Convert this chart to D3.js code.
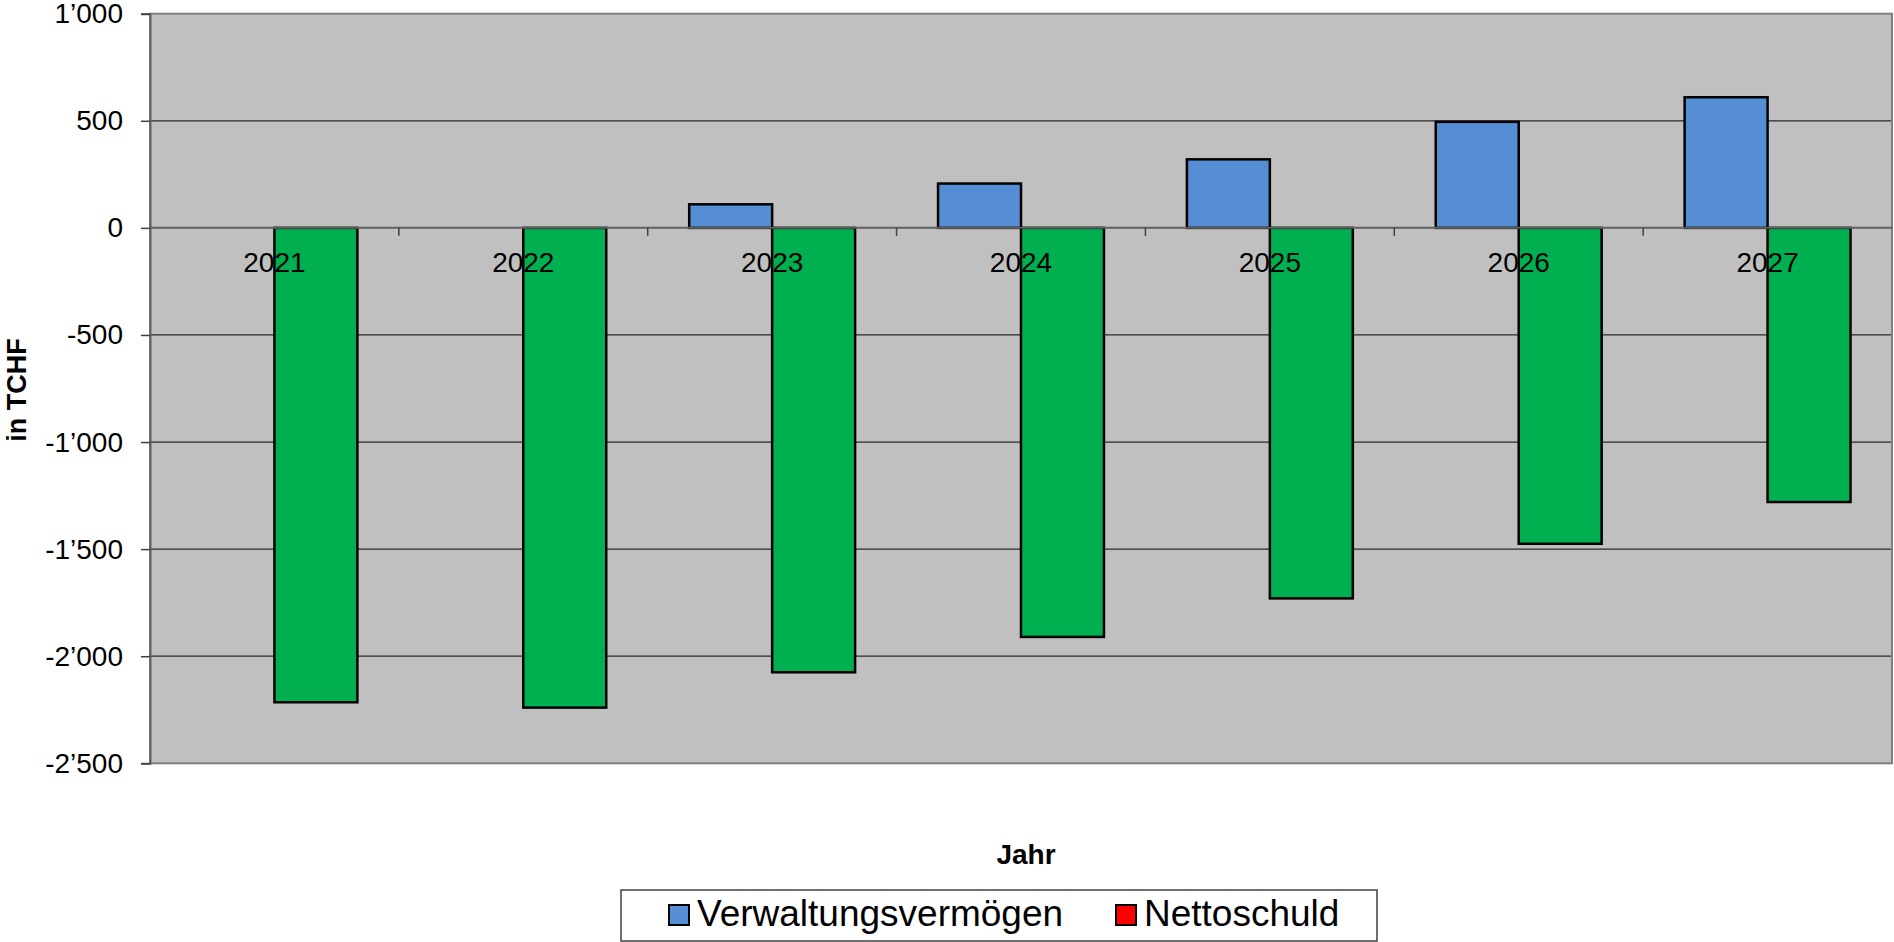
<!DOCTYPE html>
<html>
<head>
<meta charset="utf-8">
<script src="https://cdn.jsdelivr.net/npm/d3@7"></script>
<style>
  html, body { margin: 0; padding: 0; background: #ffffff; }
  svg { display: block; font-family: Arial, "Liberation Sans", sans-serif; }
</style>
</head>
<body>
<svg id="chart" width="1894" height="942"></svg>
<script>
const years = ["2021", "2022", "2023", "2024", "2025", "2026", "2027"];
const verwaltungsvermoegen = [0, 0, 110, 207, 320, 495, 610];
const nettoschuld = [-2215, -2240, -2075, -1910, -1730, -1475, -1280];
const yTicks = [1000, 500, 0, -500, -1000, -1500, -2000, -2500];
const seriesNames = ["Verwaltungsvermögen", "Nettoschuld"];
const barColors = ["#558ED5", "#00B050"];
const legendColors = ["#558ED5", "#FF0000"];

const svg = d3.select("#chart");
const plot = { left: 150, right: 1892, top: 13.7, bottom: 763.3 };

const y = d3.scaleLinear().domain([-2500, 1000]).range([plot.bottom, plot.top]);
const x0 = d3.scaleBand().domain(years).range([plot.left, plot.right])
  .paddingInner(1/3).paddingOuter(1/6);
const x1 = d3.scaleBand().domain(seriesNames).range([0, x0.bandwidth()]);

const fmt = v => {
  const s = d3.format(",")(Math.abs(v)).replace(/,/g, "\u2019");
  return (v < 0 ? "-" : "") + s;
};

// plot background
svg.append("rect")
  .attr("x", plot.left).attr("y", plot.top)
  .attr("width", plot.right - plot.left).attr("height", plot.bottom - plot.top)
  .attr("fill", "#C0C0C0");

// gridlines
svg.append("g").selectAll("line").data(yTicks.filter(t => t !== 0 && t !== -2500 && t !== 1000))
  .join("line")
  .attr("x1", plot.left).attr("x2", plot.right)
  .attr("y1", d => y(d)).attr("y2", d => y(d))
  .attr("stroke", "#2a2a2a").attr("stroke-width", 1.2);

// plot border
svg.append("rect")
  .attr("x", plot.left).attr("y", plot.top)
  .attr("width", plot.right - plot.left).attr("height", plot.bottom - plot.top)
  .attr("fill", "none").attr("stroke", "#808080").attr("stroke-width", 2);

// y axis
const yAxis = d3.axisLeft(y).tickValues(yTicks).tickSize(9).tickPadding(18).tickFormat(fmt);
const gy = svg.append("g").attr("transform", `translate(${plot.left},0)`).call(yAxis);
gy.select(".domain").attr("stroke", "#606060").attr("stroke-width", 2);
gy.selectAll(".tick line").attr("stroke", "#404040").attr("stroke-width", 1.5);
gy.selectAll(".tick text").attr("font-size", 28).attr("fill", "#000")
  .attr("font-family", "Arial, 'Liberation Sans', sans-serif");

// bars
const groups = svg.append("g").selectAll("g").data(years).join("g")
  .attr("transform", d => `translate(${x0(d)},0)`);
groups.selectAll("rect")
  .data((d, i) => [
    { s: seriesNames[0], v: verwaltungsvermoegen[i], c: barColors[0] },
    { s: seriesNames[1], v: nettoschuld[i], c: barColors[1] }
  ].filter(e => e.v !== 0))
  .join("rect")
  .attr("x", d => x1(d.s))
  .attr("width", x1.bandwidth())
  .attr("y", d => y(Math.max(0, d.v)))
  .attr("height", d => Math.abs(y(d.v) - y(0)))
  .attr("fill", d => d.c)
  .attr("stroke", "#000").attr("stroke-width", 2.5);

// zero axis with category ticks
const xAxis = d3.axisBottom(x0).tickSize(0).tickPadding(0).tickFormat("");
const gx = svg.append("g").attr("transform", `translate(0,${y(0)})`);
gx.append("line").attr("x1", plot.left).attr("x2", plot.right)
  .attr("y1", 0).attr("y2", 0).attr("stroke", "#606060").attr("stroke-width", 2);
const step = x0.step();
const boundaries = d3.range(1, years.length).map(i => plot.left + i * step);
gx.selectAll("line.ct").data(boundaries).join("line").attr("class", "ct")
  .attr("x1", d => d).attr("x2", d => d).attr("y1", 0).attr("y2", 8)
  .attr("stroke", "#404040").attr("stroke-width", 1.5);

// category labels
svg.append("g").selectAll("text").data(years).join("text")
  .attr("x", d => x0(d) + x0.bandwidth() / 2)
  .attr("y", y(0) + 44)
  .attr("text-anchor", "middle")
  .attr("font-size", 28).attr("fill", "#000")
  .text(d => d);

// axis titles
svg.append("text")
  .attr("transform", "translate(25.5,390) rotate(-90)")
  .attr("text-anchor", "middle").attr("font-size", 27).attr("font-weight", "bold")
  .text("in TCHF");
svg.append("text")
  .attr("x", 1026).attr("y", 864)
  .attr("text-anchor", "middle").attr("font-size", 28).attr("font-weight", "bold")
  .text("Jahr");

// legend
const lg = svg.append("g");
lg.append("rect").attr("x", 621).attr("y", 890).attr("width", 756).attr("height", 51)
  .attr("fill", "#fff").attr("stroke", "#404040").attr("stroke-width", 1.5);
const legendItems = [
  { name: seriesNames[0], color: legendColors[0], x: 669 },
  { name: seriesNames[1], color: legendColors[1], x: 1116 }
];
const li = lg.selectAll("g").data(legendItems).join("g")
  .attr("transform", d => `translate(${d.x},0)`);
li.append("rect").attr("x", 0).attr("y", 905).attr("width", 20).attr("height", 20)
  .attr("fill", d => d.color).attr("stroke", "#000").attr("stroke-width", 2);
li.append("text").attr("x", 28).attr("y", 926)
  .attr("font-size", 37).attr("fill", "#000")
  .text(d => d.name);
</script>
</body>
</html>
